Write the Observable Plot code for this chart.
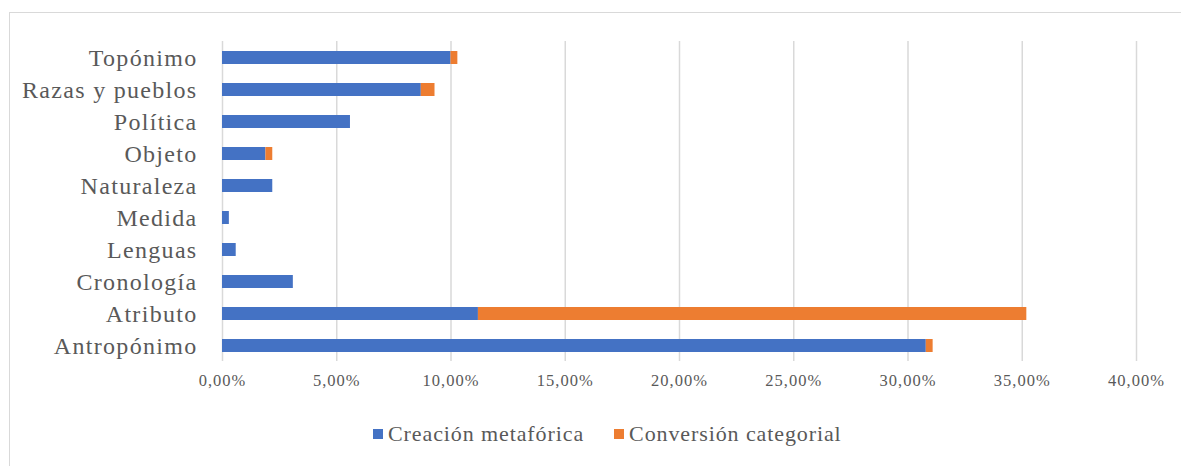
<!DOCTYPE html>
<html>
<head>
<meta charset="utf-8">
<script src="https://cdn.jsdelivr.net/npm/d3@7"></script>
<script src="https://cdn.jsdelivr.net/npm/@observablehq/plot@0.6"></script>
<style>
  html, body { margin: 0; padding: 0; background: #fff; }
  #wrap { position: relative; width: 1181px; height: 466px; overflow: hidden; font-family: "Liberation Serif", serif; }
  #frame { position: absolute; left: 9px; top: 12px; width: 1200px; height: 500px; border: 1px solid #d9d9d9; box-sizing: border-box; }
  #chart { position: absolute; left: 0; top: 0; }
  #legend { position: absolute; top: 421px; left: 373px; display: flex; align-items: center; font-size: 22px; letter-spacing: 0.9px; color: #595959; white-space: nowrap; }
  .sw { display: inline-block; width: 10px; height: 10px; margin-right: 5px; }
  .item { display: flex; align-items: center; margin-right: 30px; }
</style>
</head>
<body>
<div id="wrap">
  <div id="frame"></div>
  <div id="chart"></div>
  <div id="legend"></div>
</div>
<script>
const categories = ["Topónimo", "Razas y pueblos", "Política", "Objeto", "Naturaleza", "Medida", "Lenguas", "Cronología", "Atributo", "Antropónimo"];
const creacion = [10.0, 8.7, 5.6, 1.9, 2.2, 0.3, 0.6, 3.1, 11.2, 30.8];
const conversion = [0.3, 0.6, 0.0, 0.3, 0.0, 0.0, 0.0, 0.0, 24.0, 0.3];
const seriesNames = ["Creación metafórica", "Conversión categorial"];
const seriesColors = ["#4472C4", "#ED7D31"];
const xTicks = [0, 5, 10, 15, 20, 25, 30, 35, 40];

const data = [];
categories.forEach((c, i) => {
  data.push({cat: c, series: seriesNames[0], value: creacion[i]});
  data.push({cat: c, series: seriesNames[1], value: conversion[i]});
});

const fmt = d => d.toFixed(2).replace(".", ",") + "%";

const plot = Plot.plot({
  width: 1181,
  height: 400,
  marginLeft: 222,
  marginRight: 45,
  marginTop: 41,
  marginBottom: 39,
  style: { fontFamily: "Liberation Serif, serif", background: "transparent", overflow: "visible" },
  x: { domain: [0, 40], ticks: xTicks, tickFormat: fmt, label: null },
  y: { domain: categories, paddingInner: 0.6, paddingOuter: 0.3, label: null },
  color: { domain: seriesNames, range: seriesColors },
  marks: [
    Plot.gridX(xTicks, { stroke: "#d9d9d9", strokeOpacity: 1, strokeWidth: 1.5 }),
    Plot.barX(data, Plot.stackX({ y: "cat", x: "value", fill: "series", order: seriesNames, inset: 0 })),
    Plot.axisX({ ticks: xTicks, tickFormat: fmt, tickSize: 0, tickPadding: 13, fontSize: 16.5, fill: "#595959", label: null }),
    Plot.axisY({ tickSize: 0, tickPadding: 25, fontSize: 24, fill: "#595959", label: null })
  ]
});
plot.querySelectorAll("g[aria-label='y-axis tick label'] text").forEach(t => t.setAttribute("letter-spacing", "1.3"));
plot.querySelectorAll("g[aria-label='x-axis tick label'] text").forEach(t => t.setAttribute("letter-spacing", "1"));
document.getElementById("chart").appendChild(plot);

const legend = document.getElementById("legend");
seriesNames.forEach((n, i) => {
  const it = document.createElement("div");
  it.className = "item";
  const sw = document.createElement("span");
  sw.className = "sw";
  sw.style.background = seriesColors[i];
  it.appendChild(sw);
  it.appendChild(document.createTextNode(n));
  legend.appendChild(it);
});
</script>
</body>
</html>
